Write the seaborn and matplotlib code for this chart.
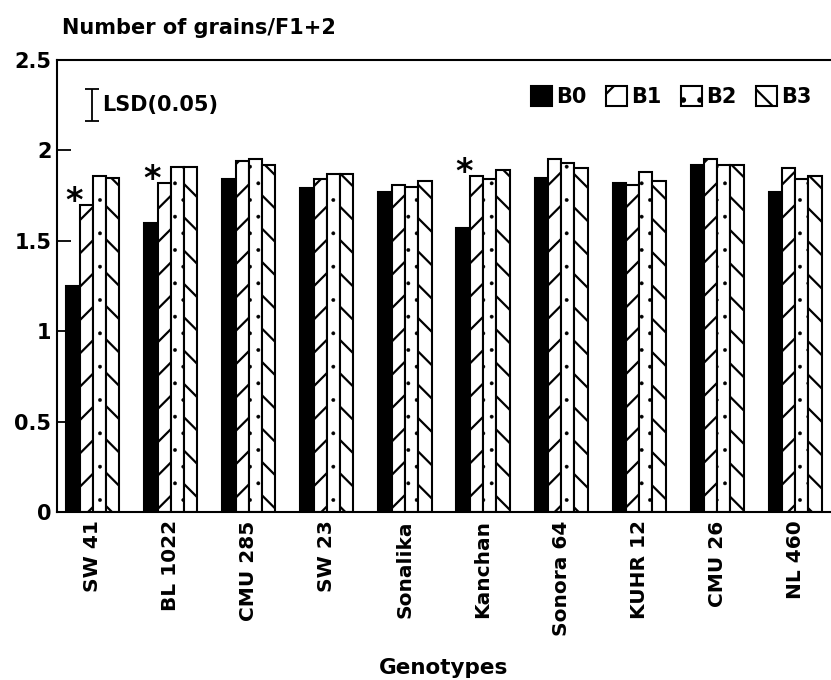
import matplotlib
matplotlib.use("Agg")
import matplotlib.pyplot as plt
import seaborn as sns
import pandas as pd

genotypes = ["SW 41", "BL 1022", "CMU 285", "SW 23", "Sonalika",
             "Kanchan", "Sonora 64", "KUHR 12", "CMU 26", "NL 460"]
treatments = ["B0", "B1", "B2", "B3"]
b0 = [1.25, 1.60, 1.84, 1.79, 1.77, 1.57, 1.85, 1.82, 1.92, 1.77]
b1 = [1.70, 1.82, 1.94, 1.84, 1.81, 1.86, 1.95, 1.81, 1.95, 1.90]
b2 = [1.86, 1.91, 1.95, 1.87, 1.80, 1.84, 1.93, 1.88, 1.92, 1.84]
b3 = [1.85, 1.91, 1.92, 1.87, 1.83, 1.89, 1.90, 1.83, 1.92, 1.86]
significant = ["SW 41", "BL 1022", "Kanchan"]
lsd = 0.18
yticks = [0, 0.5, 1, 1.5, 2, 2.5]
ytick_labels = ["0", "0.5", "1", "1.5", "2", "2.5"]

rows = []
for vals, t in zip([b0, b1, b2, b3], treatments):
    for g, v in zip(genotypes, vals):
        rows.append({"Genotype": g, "Treatment": t, "Value": v})
df = pd.DataFrame(rows)

sns.set_style("white")
plt.rcParams["font.family"] = ["DejaVu Sans"]
plt.rcParams["font.weight"] = "bold"
plt.rcParams["text.color"] = "black"
plt.rcParams["axes.labelcolor"] = "black"
plt.rcParams["xtick.color"] = "black"
plt.rcParams["ytick.color"] = "black"
plt.rcParams["hatch.linewidth"] = 1.6
plt.rcParams["hatch.color"] = "black"

fig = plt.figure(figsize=(8.31, 6.80), dpi=100)
ax = fig.add_axes([57 / 831, 1 - 512 / 680, 1 - 57 / 831, (512 - 60) / 680])

palette = {"B0": "black", "B1": "white", "B2": "white", "B3": "white"}
sns.barplot(data=df, x="Genotype", y="Value", hue="Treatment", order=genotypes,
            hue_order=treatments, palette=palette, width=0.68, edgecolor="black",
            linewidth=1.5, saturation=1, legend=False, ax=ax)

hatches = ["", "/", ".", "\\"]
for cont, h in zip(ax.containers, hatches):
    for p in cont.patches:
        p.set_hatch(h)
        p.set_edgecolor("black")
        if h == "." and hasattr(p, "set_hatch_linewidth"):
            p.set_hatch_linewidth(0.3)

ax.set_xlim(-0.46, 9.46)
ax.set_ylim(0, 2.5)
ax.set_yticks(yticks)
ax.set_yticklabels(ytick_labels, fontsize=15, fontweight="bold")
ax.tick_params(axis="y", direction="in", length=10, width=1.3, left=True, pad=4,
               colors="black")
ax.tick_params(axis="x", length=0, pad=6, colors="black")
ax.set_xticks(range(len(genotypes)))
ax.set_xticklabels(genotypes, rotation=90, fontsize=14.5, fontweight="bold")
ax.set_xlabel("Genotypes", fontsize=15.5, fontweight="bold", labelpad=16)
ax.set_ylabel("")
for s in ["left", "bottom", "top"]:
    ax.spines[s].set_visible(True)
    ax.spines[s].set_color("black")
    ax.spines[s].set_linewidth(1.5)
ax.spines["right"].set_visible(False)

# significance asterisks (next to B1 bar)
cont_b1 = ax.containers[1]
for g in significant:
    i = genotypes.index(g)
    p = cont_b1.patches[i]
    ax.text(p.get_x() - 0.07, p.get_height() + 0.02, "*", ha="center", va="center",
            fontsize=24, fontweight="bold")

# LSD bar
ax.errorbar([-0.01], [2.25], yerr=lsd / 2, fmt="none", ecolor="black",
            elinewidth=1.3, capsize=5, capthick=1.3)
ax.text(0.12, 2.25, "LSD(0.05)", ha="left", va="center", fontsize=15, fontweight="bold")

fig.text(62 / 831, 1 - 28 / 680, "Number of grains/F1+2", ha="left", va="center",
         fontsize=15, fontweight="bold")

handles = [c for c in ax.containers]
leg = ax.legend(handles, treatments, ncol=4, frameon=False, loc="center right",
                bbox_to_anchor=(0.975, 2.30 / 2.5), handlelength=1.0, handleheight=1.1,
                handletextpad=0.2, columnspacing=0.95, borderaxespad=0.0,
                borderpad=0.0, prop={"weight": "bold", "size": 15})

fig.savefig("out.png", dpi=100)
